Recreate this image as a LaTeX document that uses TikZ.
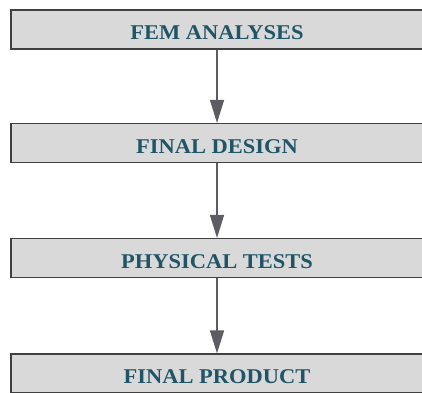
\documentclass[tikz,border=0pt]{standalone}
\usepackage{fontspec}
\setmainfont{Liberation Serif}
\newfontfamily\stagefont[FakeStretch=1.07]{Liberation Serif}
\usetikzlibrary{positioning}
\usetikzlibrary{arrows.meta}
\definecolor{boxfill}{HTML}{D9D9D9}
\definecolor{boxtext}{HTML}{1F5566}
\definecolor{arrowgray}{HTML}{5C5C62}
\tikzset{
    stagenode/.style = {rectangle, draw=black!75, line width=1.2pt, fill=boxfill, minimum width=412pt, minimum height=39pt, inner sep=0pt, text height=20pt, text depth=0pt, align=center, font=\stagefont\bfseries\fontsize{21}{21}\selectfont, text=boxtext},
    edgea/.style = {-{Triangle[length=23pt,width=14pt]}, line width=1.5pt, arrowgray},
}
\begin{document}
\begin{tikzpicture}[x=1pt,y=1pt]
\path[use as bounding box] (0,0) rectangle (422,-392);
\node[stagenode] at (217,-29.5) (fem) {FEM ANALYSES};
\node[stagenode] at (217,-143.0) (design) {FINAL DESIGN};
\node[stagenode] at (217,-258.0) (tests) {PHYSICAL TESTS};
\node[stagenode] at (217,-373.5) (product) {FINAL PRODUCT};
%
\draw[edgea] (fem) -- (design);
\draw[edgea] (design) -- (tests);
\draw[edgea] (tests) -- (product);
\end{tikzpicture}
\end{document}
